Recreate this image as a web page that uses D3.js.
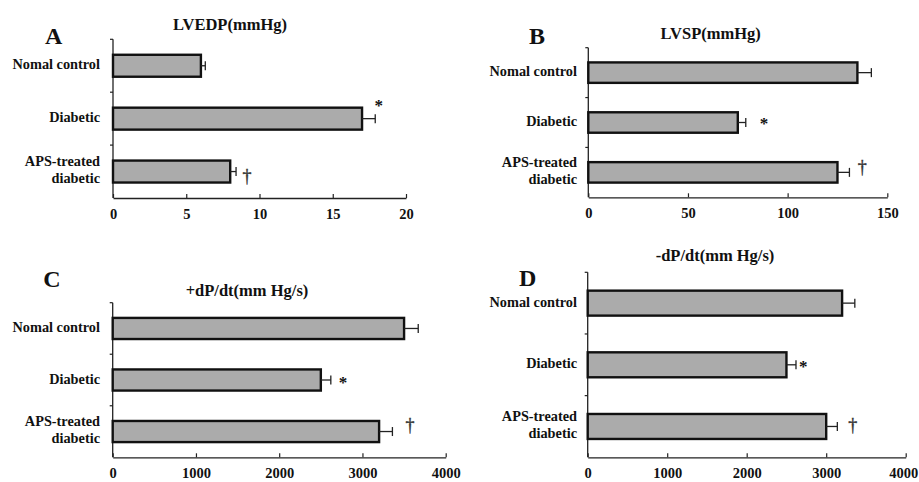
<!DOCTYPE html>
<html>
<head>
<meta charset="utf-8">
<script src="https://cdn.jsdelivr.net/npm/d3@7"></script>
<style>
  body { margin: 0; background: #fff; }
  svg text { font-family: "Liberation Serif", "Times New Roman", serif; font-weight: bold; fill: #111; }
</style>
</head>
<body>
<div id="chart"></div>
<script>
// groups (third one wraps on two lines)
var categories = ["Nomal control", "Diabetic", "APS-treated diabetic"];
var catLines = [["Nomal control"], ["Diabetic"], ["APS-treated", "diabetic"]];

// values
var lvedp = [6, 17, 8];
var lvedpErr = [0.3, 0.9, 0.4];
var lvsp = [135, 75, 125];
var lvspErr = [7, 4, 6];
var plusDpdt = [3500, 2500, 3200];
var plusDpdtErr = [170, 120, 160];
var minusDpdt = [3200, 2500, 3000];
var minusDpdtErr = [160, 120, 140];

var ticksA = [0, 5, 10, 15, 20];
var ticksB = [0, 50, 100, 150];
var ticksCD = [0, 1000, 2000, 3000, 4000];

// significance marks per group
var marks = ["", "*", "\u2020"];

var svg = d3.select("#chart").append("svg")
    .attr("width", 919)
    .attr("height", 482);

// where each panel sits
var panels = [
  { letter: "A", title: "LVEDP(mmHg)", vals: lvedp, errs: lvedpErr, ticks: ticksA,
    x0: 113, x1: 406, yTop: 39.3, yBot: 198, labelX: 100,
    titleX: 230, titleY: 29.5, letterX: 45, letterY: 43.5, pad: 0.585,
    star: [3.4, -15], dag: [11, 5] },
  { letter: "B", title: "LVSP(mmHg)", vals: lvsp, errs: lvspErr, ticks: ticksB,
    x0: 588.3, x1: 887.3, yTop: 47.7, yBot: 197.3, labelX: 577,
    titleX: 710.7, titleY: 39, letterX: 529, letterY: 43.5, pad: 0.59,
    star: [18.3, -1], dag: [12.7, -4] },
  { letter: "C", title: "+dP/dt(mm Hg/s)", vals: plusDpdt, errs: plusDpdtErr, ticks: ticksCD,
    x0: 112.7, x1: 445.7, yTop: 302.7, yBot: 457.3, labelX: 100,
    titleX: 247, titleY: 296, letterX: 43.3, letterY: 286.5, pad: 0.59,
    star: [12.3, 0], dag: [17.7, -5.7] },
  { letter: "D", title: "-dP/dt(mm Hg/s)", vals: minusDpdt, errs: minusDpdtErr, ticks: ticksCD,
    x0: 587.7, x1: 905.7, yTop: 272.3, yBot: 457.3, labelX: 577,
    titleX: 715, titleY: 260.7, letterX: 519, letterY: 286, pad: 0.595,
    star: [7.3, 0], dag: [15.4, -0.7] }
];

panels.forEach(function(p) {
  var g = svg.append("g");
  var x = d3.scaleLinear()
      .domain([p.ticks[0], p.ticks[p.ticks.length - 1]])
      .range([p.x0, p.x1]);
  var y = d3.scaleBand()
      .domain(categories)
      .range([p.yTop, p.yBot])
      .paddingInner(p.pad)
      .paddingOuter(p.pad / 2);

  // panel letter + title
  g.append("text")
      .attr("x", p.letterX)
      .attr("y", p.letterY)
      .style("font-size", "24px")
      .text(p.letter);
  g.append("text")
      .attr("x", p.titleX)
      .attr("y", p.titleY)
      .attr("text-anchor", "middle")
      .style("font-size", "16.5px")
      .text(p.title);

  // x axis, ticks pointing inward
  var xAxis = g.append("g")
      .attr("transform", "translate(0," + p.yBot + ")")
      .call(d3.axisBottom(x).tickValues(p.ticks).tickFormat(d3.format("d"))
        .tickSizeInner(-4).tickSizeOuter(0).tickPadding(10.5));
  xAxis.select(".domain").attr("stroke", "#222").attr("stroke-width", 1.3);
  xAxis.selectAll(".tick line").attr("stroke", "#222").attr("stroke-width", 1.2);
  xAxis.selectAll(".tick text")
      .style("font-size", "14.5px")
      .style("font-family", "Liberation Serif")
      .style("font-weight", "bold")
      .attr("fill", "#111");
  // last label sits at the page edge
  if (p.x1 > 900) {
    xAxis.selectAll(".tick text").filter(function(d) { return d == p.ticks[p.ticks.length - 1]; })
        .attr("dx", -2.5);
  }

  // y axis line with ticks at band edges
  g.append("line")
      .attr("x1", p.x0).attr("x2", p.x0)
      .attr("y1", p.yTop).attr("y2", p.yBot)
      .attr("stroke", "#222").attr("stroke-width", 1.3);
  var edges = categories.map(function(c) { return y(c) + y.bandwidth() / 2 - y.step() / 2; });
  g.selectAll(".ytick")
      .data(edges)
      .enter().append("line")
      .attr("x1", p.x0 - 3).attr("x2", p.x0)
      .attr("y1", function(d) { return d; })
      .attr("y2", function(d) { return d; })
      .attr("stroke", "#222").attr("stroke-width", 1.2);

  // category labels
  categories.forEach(function(c, i) {
    var cy = y(c) + y.bandwidth() / 2;
    var lines = catLines[i];
    lines.forEach(function(t, j) {
      var by = lines.length == 1 ? cy + 3.5 : cy - 5.2 + j * 16.6;
      g.append("text")
          .attr("x", p.labelX)
          .attr("y", by)
          .attr("text-anchor", "end")
          .style("font-size", "14.3px")
          .text(t);
    });
  });

  // bars
  g.selectAll(".bar")
      .data(p.vals)
      .enter().append("rect")
      .attr("x", x(0))
      .attr("y", function(d, i) { return y(categories[i]); })
      .attr("width", function(d) { return x(d) - x(0); })
      .attr("height", y.bandwidth())
      .attr("fill", "#ababab")
      .attr("stroke", "#111")
      .attr("stroke-width", 2.4);

  // error bars
  p.vals.forEach(function(v, i) {
    var cy = y(categories[i]) + y.bandwidth() / 2;
    var xe = x(v + p.errs[i]);
    g.append("line")
        .attr("x1", x(v)).attr("x2", xe)
        .attr("y1", cy).attr("y2", cy)
        .attr("stroke", "#222").attr("stroke-width", 1.3);
    g.append("line")
        .attr("x1", xe).attr("x2", xe)
        .attr("y1", cy - 4.5).attr("y2", cy + 4.5)
        .attr("stroke", "#222").attr("stroke-width", 1.3);

    if (marks[i] == "*") {
      g.append("text")
          .attr("x", xe + p.star[0])
          .attr("y", cy + p.star[1] + 7.5)
          .attr("text-anchor", "middle")
          .style("font-size", "17px")
          .attr("fill", "#333")
          .text(marks[i]);
    } else if (marks[i] != "") {
      // thin stroke so the glyph is drawn grey, not colour-fringed
      g.append("text")
          .attr("x", xe + p.dag[0])
          .attr("y", cy + p.dag[1] + 5)
          .attr("text-anchor", "middle")
          .style("font-size", "18px")
          .style("font-family", "Liberation Serif")
          .style("font-weight", "normal")
          .style("fill", "#333")
          .style("stroke", "#333")
          .style("stroke-width", 0.4)
          .text(marks[i]);
    }
  });
});
</script>
</body>
</html>
